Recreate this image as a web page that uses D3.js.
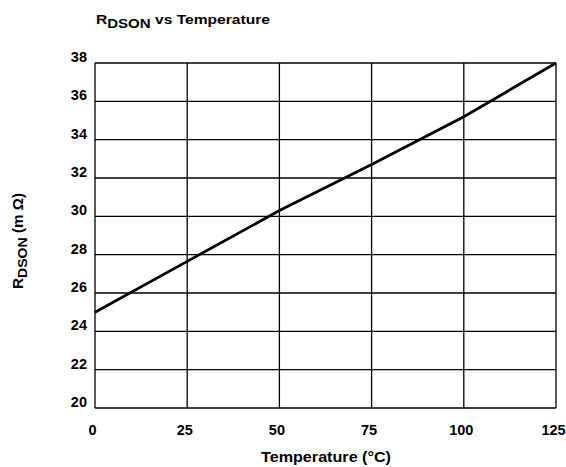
<!DOCTYPE html>
<html><head><meta charset="utf-8">
<script src="https://cdn.jsdelivr.net/npm/d3@7"></script>
<style>body{margin:0;background:#fff;} text{font-family:"Liberation Sans",Arial,sans-serif;font-weight:bold;fill:#000;}</style>
</head><body>
<svg id="c" width="566" height="467"></svg>
<script>
const temps = [0, 25, 50, 75, 100, 125];
const rdson = [25.0, 27.65, 30.3, 32.7, 35.2, 38.0];
const xTicks = [0, 25, 50, 75, 100, 125];
const yTicks = [20, 22, 24, 26, 28, 30, 32, 34, 36, 38];

const svg = d3.select("#c");
const L = 95, R = 556, T = 63, B = 408;
const x = d3.scaleLinear().domain([0, 125]).range([L, R]);
const y = d3.scaleLinear().domain([20, 38]).range([B, T]);

const g = svg.append("g");
g.selectAll(".vg").data(xTicks).enter().append("line")
  .attr("x1", d => x(d)).attr("x2", d => x(d)).attr("y1", T).attr("y2", B)
  .attr("stroke", "#000").attr("stroke-width", 1.3);
g.selectAll(".hg").data(yTicks).enter().append("line")
  .attr("x1", L).attr("x2", R).attr("y1", d => y(d)).attr("y2", d => y(d))
  .attr("stroke", "#000").attr("stroke-width", 1.3);

const xa = svg.append("g").attr("transform", `translate(0,${B})`)
  .call(d3.axisBottom(x).tickValues(xTicks).tickSize(0).tickPadding(0));
xa.select(".domain").remove();
xa.selectAll("text").attr("font-size", 14.5).attr("dy", null).attr("y", 27).attr("dx", -3)
  .style("font-family", "Liberation Sans, Arial, sans-serif").style("font-weight","bold");

const ya = svg.append("g").attr("transform", `translate(${L},0)`)
  .call(d3.axisLeft(y).tickValues(yTicks).tickSize(0).tickPadding(8));
ya.select(".domain").remove();
ya.selectAll("text").attr("font-size", 14.5).attr("dy", "0.12em")
  .attr("y", -3.2)
  .style("font-family", "Liberation Sans, Arial, sans-serif").style("font-weight","bold");

svg.append("path")
  .datum(temps.map((t, i) => [t, rdson[i]]))
  .attr("fill", "none").attr("stroke", "#000").attr("stroke-width", 2.8)
  .attr("d", d3.line().x(d => x(d[0])).y(d => y(d[1])));

const t = svg.append("text").attr("x", 96).attr("y", 23.5).attr("font-size", 13.5)
  .attr("textLength", 174).attr("lengthAdjust", "spacingAndGlyphs");
t.append("tspan").text("R");
t.append("tspan").attr("font-size", 13).attr("dy", 4).text("DSON");
t.append("tspan").attr("dy", -4).text(" vs Temperature");

svg.append("text").attr("x", (L + R) / 2 + 0.5).attr("y", 462).attr("text-anchor", "middle")
  .attr("font-size", 14.5).attr("textLength", 130).attr("lengthAdjust", "spacingAndGlyphs")
  .text("Temperature (°C)");

const yt = svg.append("text").attr("transform", "translate(23,241) rotate(-90)")
  .attr("text-anchor", "middle").attr("font-size", 14)
  .attr("textLength", 96).attr("lengthAdjust", "spacingAndGlyphs");
yt.append("tspan").text("R");
yt.append("tspan").attr("font-size", 13).attr("dy", 4).text("DSON");
yt.append("tspan").attr("dy", -4).text(" (m Ω)");
</script>
</body></html>
